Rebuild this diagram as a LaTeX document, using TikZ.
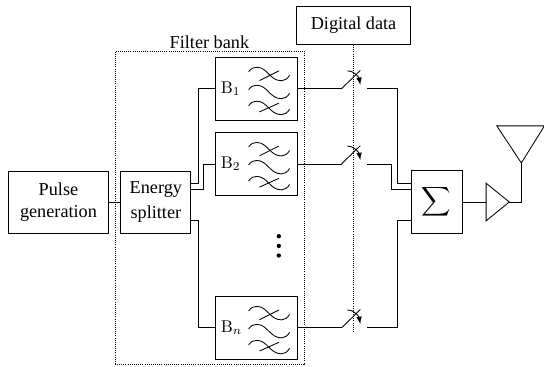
\documentclass[tikz,border=0pt]{standalone}
\usepackage{amsmath}
\usepackage{graphicx}
\usepackage[no-math]{fontspec}
\setmainfont{Liberation Serif}

\tikzset{
  block/.style={rectangle,draw,align=center,inner sep=0pt},
  filterbox/.style={block,minimum width=1.70cm,minimum height=1.30cm},
  bandtext/.style={anchor=west,inner sep=0pt,font=\fontsize{10}{12}\selectfont},
  dotline/.style={line width=0.35pt,dash pattern=on 0.35pt off 0.9pt},
  dotmark/.style={circle,fill,inner sep=0pt,minimum size=0.09cm},
  joint/.style={coordinate},
  filtersym/.pic={
    \draw[x=0.0207cm,y=0.0207cm,shift={(-8,17)}] (0,0) .. controls (2.5,3.5) and (5,4.5) .. (8,4.5) .. controls (19,4.5) and (21,-9) .. (33,-9) .. controls (36,-9) and (39,-7) .. (41,-3.5);
    \draw[x=0.0207cm,y=0.0207cm,shift={(-8,-1)}] (0,0) .. controls (2.5,3.5) and (5,4.5) .. (8,4.5) .. controls (19,4.5) and (21,-9) .. (33,-9) .. controls (36,-9) and (39,-7) .. (41,-3.5);
    \draw[x=0.0207cm,y=0.0207cm,shift={(-8,-17)}] (0,0) .. controls (2.5,3.5) and (5,4.5) .. (8,4.5) .. controls (19,4.5) and (21,-9) .. (33,-9) .. controls (36,-9) and (39,-7) .. (41,-3.5);
    \draw (0.06,0.17) -- (0.46,0.37);
    \draw (0.06,-0.48) -- (0.46,-0.30);
  },
  switchsym/.pic={
    \draw (0,0) -- (0.39,0.38);
    \draw[-latex] (0.12,0.37) to[out=0,in=100] (0.39,0.08);
  }
}

\begin{document}
\begin{tikzpicture}[node distance=2cm,line width=0.5pt,font=\fontsize{10.75}{12.6}\selectfont]
  \useasboundingbox (-1.213,4.19) rectangle (10.07,-3.42);
  \node (pulse) [block,minimum width=2.09cm,minimum height=1.29cm] {Pulse\\generation};
  \node (bank) [block,dotline,right of=pulse,node distance=3.13cm,yshift=-0.12cm,minimum width=3.92cm,minimum height=6.51cm,label={[inner sep=1pt]above:Filter bank}] {};
  \node (splitter) [block,right of=pulse,node distance=2.02cm,minimum width=1.45cm,minimum height=1.29cm] {Energy\\[1.8pt]splitter};
  \node (btwo) [filterbox,right of=splitter,node distance=2.09cm,yshift=0.79cm] {};
  \node (bone) [filterbox,above of=btwo,node distance=1.56cm] {};
  \node (bn) [filterbox,below of=btwo,node distance=3.40cm] {};
  \node (sigma) [block,right of=splitter,node distance=5.82cm,minimum width=1.06cm,minimum height=1.30cm] {\scalebox{1.1}{$\displaystyle\sum$}};
  \node (data) [block,above of=bone,node distance=1.31cm,xshift=2.01cm,minimum width=2.36cm,minimum height=0.79cm] {Digital data};
  \node (dota) [dotmark,right of=bn,node distance=0.46cm,yshift=1.90cm] {};
  \node (dotb) [dotmark,below of=dota,node distance=0.20cm] {};
  \node (dotc) [dotmark,below of=dotb,node distance=0.20cm] {};

  \node (bonetext) [bandtext] at ([xshift=0.11cm]bone.west) {$\mathrm{B}_1$};
  \node (btwotext) [bandtext] at ([xshift=0.11cm]btwo.west) {$\mathrm{B}_2$};
  \node (bntext) [bandtext] at ([xshift=0.11cm]bn.west) {$\mathrm{B}_n$};
  \pic at (bone) {filtersym};
  \pic at (btwo) {filtersym};
  \pic at (bn) {filtersym};

  \node (swone) [joint,right of=bone,node distance=1.76cm] {};
  \node (swtwo) [joint,right of=btwo,node distance=1.76cm] {};
  \node (swn) [joint,right of=bn,node distance=1.76cm] {};
  \node (conone) [joint,right of=bone,node distance=2.28cm] {};
  \node (contwo) [joint,right of=btwo,node distance=2.28cm] {};
  \node (conn) [joint,right of=bn,node distance=2.28cm] {};
  \pic at (swone) {switchsym};
  \pic at (swtwo) {switchsym};
  \pic at (swn) {switchsym};

  \node (ampin) [joint,right of=sigma,node distance=1.03cm] {};
  \node (amptip) [joint,right of=ampin,node distance=0.48cm] {};
  \node (antbase) [joint,right of=amptip,node distance=0.25cm,yshift=0.81cm] {};

  \draw (pulse) -- (splitter);
  \draw ([yshift=0.39cm]splitter.east) -- ++(0.15,0) |- (bone.west);
  \draw ([yshift=0.27cm]splitter.east) -- ++(0.25,0) |- (btwo.west);
  \draw ([yshift=-0.39cm]splitter.east) -- ++(0.15,0) |- (bn.west);
  \draw (bone) -- (swone);
  \draw (btwo) -- (swtwo);
  \draw (bn) -- (swn);
  \draw ([yshift=0.39cm]sigma.west) -- ++(-0.27,0) |- (conone);
  \draw ([yshift=0.27cm]sigma.west) -- ++(-0.39,0) |- (contwo);
  \draw ([yshift=-0.39cm]sigma.west) -- ++(-0.27,0) |- (conn);
  \draw[dotline] (data.south) -- ++(0,-5.97);
  \draw (sigma) -- (ampin);
  \draw (ampin) ++(0,0.39) -- ++(0,-0.78) -- (amptip) -- cycle;
  \draw (amptip) -| (antbase);
  \draw (antbase) -- ++(-0.51,0.77) -- ++(0.99,0) -- cycle;
\end{tikzpicture}
\end{document}
